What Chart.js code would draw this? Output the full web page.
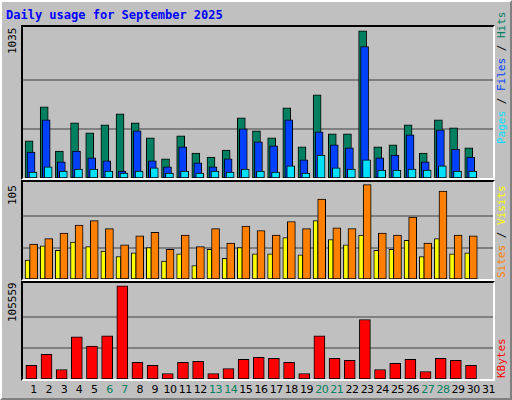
<!DOCTYPE html>
<html lang="en">
<head>
<meta charset="UTF-8" />
<title>Daily usage for September 2025</title>
<script src="https://cdn.jsdelivr.net/npm/chart.js"></script>
<style>
  body { margin: 0; background: #fff; }
  #frame { position: absolute; left: 0; top: 0; width: 508px; height: 396px; background: #C0C0C0;
           border-top: 2px solid #fff; border-left: 2px solid #fff; border-right: 2px solid #808080; border-bottom: 2px solid #808080; }
  .title { position: absolute; left: 4px; top: 6px; font: bold 12px "DejaVu Sans Mono", monospace; color: #0000FF; }
  .panel { position: absolute; left: 19px; width: 470px; border-top: 2px solid #000; border-left: 2px solid #000;
           border-right: 2px solid #fff; border-bottom: 2px solid #fff; background: #C0C0C0; }
  .panel canvas { position: absolute; left: 0; top: 0; }
  .rot { position: absolute; transform-origin: left top; transform: rotate(-90deg); white-space: nowrap;
         font: 11px "DejaVu Sans Mono", monospace; }
  .day { position: absolute; top: 381px; font: 11px "DejaVu Sans", sans-serif; width: 20px; text-align: center; letter-spacing: -0.5px; }
</style>
</head>
<body>
<div id="frame">
  <div class="title">Daily usage for September 2025</div>
  <div class="panel" style="top:23px;height:151px"><canvas id="c1"></canvas></div>
  <div class="panel" style="top:178px;height:97px"><canvas id="c2"></canvas></div>
  <div class="panel" style="top:279px;height:96px"><canvas id="c3"></canvas></div>
  <div class="rot" style="left:4px;top:52px;">1035</div>
  <div class="rot" style="left:4px;top:203px;">105</div>
  <div class="rot" style="left:4px;top:320px;">105559</div>
  <div class="rot" style="left:493px;top:142px;"><span style="color:#00E0FF">Pages</span><span style="color:#000"> / </span><span style="color:#0040FF">Files</span><span style="color:#000"> / </span><span style="color:#008060">Hits</span></div>
  <div class="rot" style="left:493px;top:276px;"><span style="color:#FF8000">Sites</span><span style="color:#000"> / </span><span style="color:#FFFF00">Visits</span></div>
  <div class="rot" style="left:493px;top:376px;"><span style="color:#FF0000">KBytes</span></div>
  <div id="days"></div>
</div>
<script>
const days = ['1','2','3','4','5','6','7','8','9','10','11','12','13','14','15','16','17','18','19','20','21','22','23','24','25','26','27','28','29','30','31'];
const weekend = [6, 7, 13, 14, 20, 21, 27, 28];

const hits   = [261, 500, 190, 388, 317, 374, 451, 388, 282, 134, 296, 176, 148, 197, 423, 331, 282, 494, 219, 585, 310, 310, 1035, 219, 233, 374, 176, 409, 353, 212, 0];
const files  = [183, 409, 113, 190, 141, 120, 49, 331, 120, 78, 219, 106, 78, 134, 345, 254, 226, 409, 127, 324, 233, 212, 924, 141, 162, 303, 113, 338, 204, 148, 0];
const pages  = [42, 78, 49, 63, 63, 49, 35, 49, 71, 35, 49, 35, 49, 42, 63, 49, 42, 85, 35, 162, 71, 63, 127, 56, 56, 63, 56, 85, 49, 49, 0];
const sites  = [39, 45, 51, 60, 65, 56, 38, 48, 52, 33, 49, 36, 56, 40, 59, 54, 49, 64, 56, 89, 57, 56, 105, 51, 49, 69, 40, 98, 49, 48, 0];
const visits = [21, 37, 32, 41, 36, 31, 25, 29, 35, 20, 28, 15, 33, 23, 35, 28, 28, 46, 27, 65, 44, 38, 49, 32, 33, 43, 25, 45, 28, 29, 0];
const kbytes = [15400, 28100, 10800, 47700, 37300, 48900, 105559, 18900, 15400, 6200, 18900, 20000, 6200, 11900, 22300, 24600, 23500, 18900, 6200, 48900, 23500, 21200, 67400, 10800, 17700, 22300, 8500, 23500, 21200, 15400, 0];

const topMax = [1062, 108, 108800];
const topLabel = [1035, 105, 105559];

function pts(arr, shift) {
  return arr.map((v, i) => ({ x: i + 1 + shift, y: v }));
}
// lower order is drawn on top
function ds(arr, shift, color, w, order) {
  return { data: pts(arr, shift), backgroundColor: color, borderColor: '#000', borderWidth: 1,
           barThickness: w, borderSkipped: false, order: order, grouped: false };
}
function makeChart(id, w, h, datasets, max, lbl) {
  const c = document.getElementById(id);
  c.width = w; c.height = h; c.style.width = w + 'px'; c.style.height = h + 'px';
  new Chart(c, {
    type: 'bar',
    data: { datasets: datasets },
    options: {
      responsive: false, animation: false, devicePixelRatio: 1,
      layout: { padding: 0 },
      plugins: { legend: { display: false }, tooltip: { enabled: false } },
      scales: {
        x: { type: 'linear', min: 0.5, max: 31.5, offset: false, display: false },
        y: {
          min: 0, max: max,
          afterBuildTicks: s => { s.ticks = [{ value: lbl / 3 }, { value: lbl * 2 / 3 }]; },
          ticks: { display: false },
          grid: { color: '#808080', lineWidth: 2, drawTicks: false },
          border: { display: false }
        }
      }
    }
  });
}

makeChart('c1', 470, 151, [ds(hits, -0.1, '#008060', 8, 3), ds(files, 0.03, '#0040FF', 8, 2), ds(pages, 0.16, '#00E0FF', 8, 1)], topMax[0], topLabel[0]);
makeChart('c2', 470, 97, [ds(visits, -0.2, '#FFFF00', 5, 2), ds(sites, 0.2, '#FF8000', 8, 1)], topMax[1], topLabel[1]);
makeChart('c3', 470, 96, [ds(kbytes, 0.05, '#FF0000', 11, 1)], topMax[2], topLabel[2]);

const box = document.getElementById('days');
days.forEach((d, i) => {
  const s = document.createElement('span');
  s.className = 'day';
  s.textContent = d;
  s.style.left = (21 + 470 / 31 * (i + 0.5) - 10 + 3) + 'px';
  s.style.color = weekend.includes(Number(d)) ? '#008060' : '#000';
  box.appendChild(s);
});
</script>
</body>
</html>
